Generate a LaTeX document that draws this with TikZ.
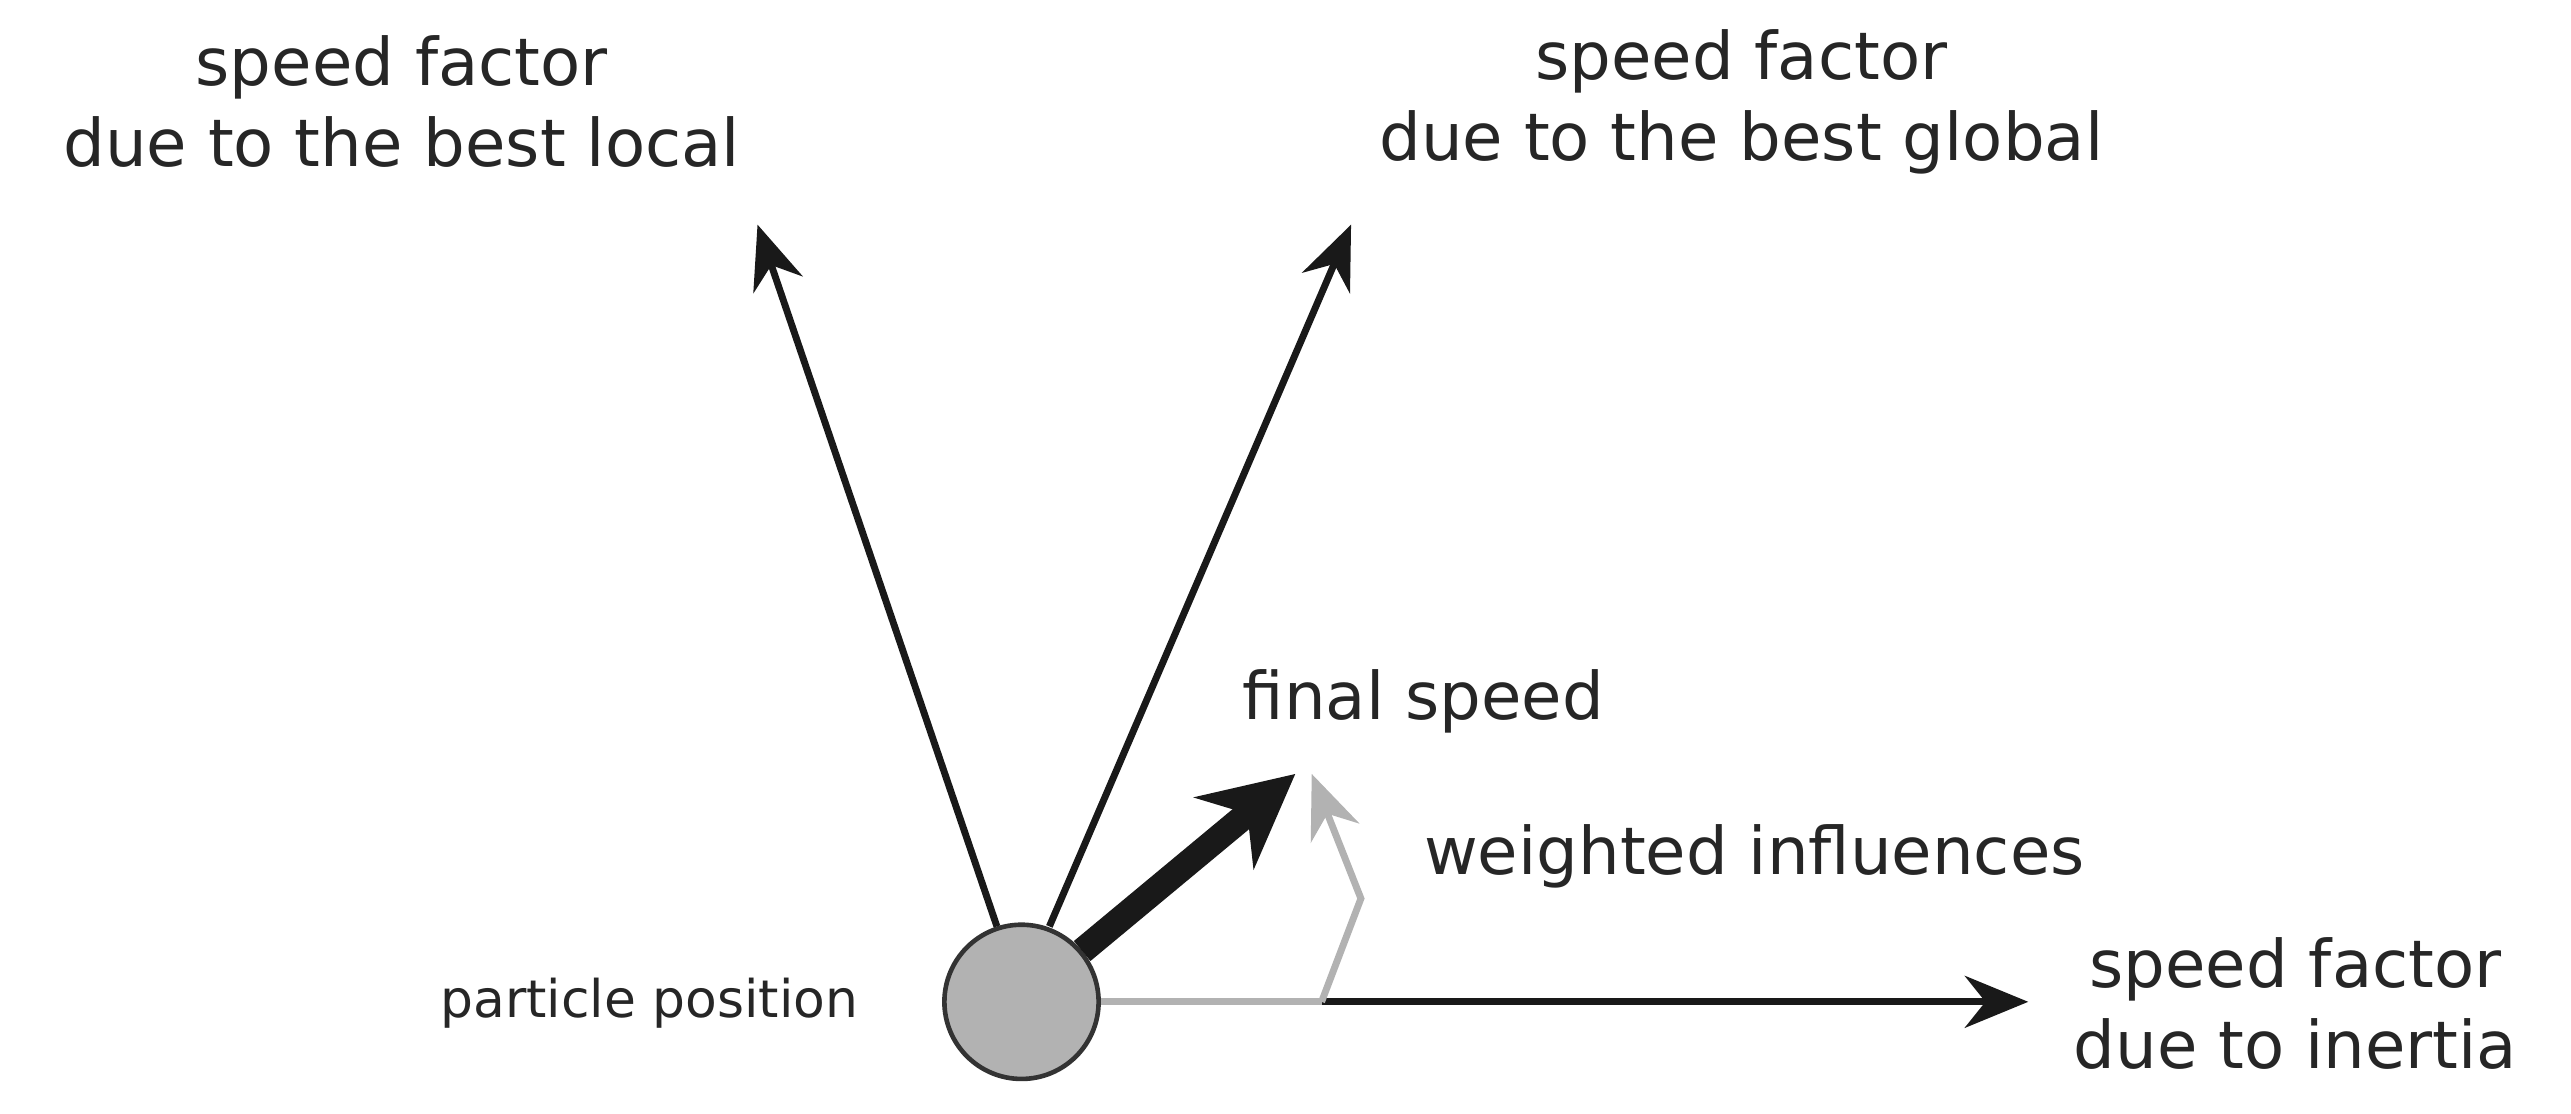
\documentclass[tikz,border=0pt]{standalone}
\usepackage{fontspec}
\setmainfont{DejaVu Sans}
\usetikzlibrary{arrows.meta}
\begin{document}
\begin{tikzpicture}[x=0.01cm,y=-0.01cm,
  lbl/.style={font=\fontsize{11.4}{14}\selectfont,align=center,text=black!85},
  arr/.style={line width=1.2pt,draw=black!90,-{Stealth[length=11pt,width=9pt]}},
  garr/.style={line width=1.2pt,draw=black!30}]
\useasboundingbox (0,0) rectangle (1568,679);
\node[circle,draw=black!80,fill=black!30,line width=0.8pt,minimum size=0.94cm,inner sep=0pt] (p) at (623,611) {};
\coordinate (tl) at (462,137);
\coordinate (tg) at (824,137);
\coordinate (tf) at (790,472);
\coordinate (ti) at (1237,611);
\coordinate (m) at (806,611);
\coordinate (k) at (830,548);
\coordinate (tw) at (800,472);
\draw[arr] (608,565) -- (tl);
\draw[arr] (640,565) -- (tg);
\draw[line width=4.5pt,draw=black!90,-{Stealth[length=16pt,width=16pt]}] (660,580) -- (tf);
\draw[garr] (p.east) -- (m);
\draw[arr] (m) -- (ti);
\draw[garr,-{Stealth[length=11pt,width=9pt]}] (m) -- (k) -- (tw);
\node[lbl] (nl) at (245,62) {speed factor\\due to the best local};
\node[lbl] (ng) at (1062,62) {speed factor\\due to the best global};
\node[lbl] (nf) at (868,428) {final speed};
\node[lbl] (nw) at (1070,522) {weighted influences};
\node[lbl] (ni) at (1400,612) {speed factor\\due to inertia};
\node[lbl,font=\fontsize{9}{10}\selectfont] (np) at (396,612) {particle position};
\end{tikzpicture}
\end{document}
